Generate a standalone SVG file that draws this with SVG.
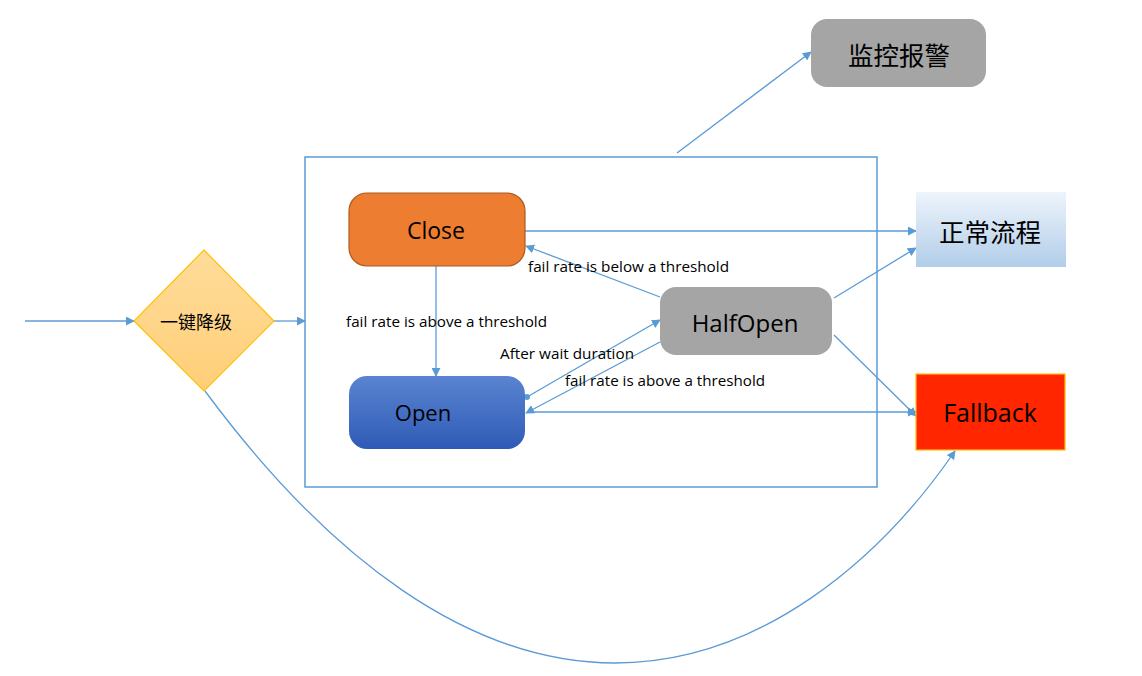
<svg xmlns="http://www.w3.org/2000/svg" width="1142" height="676" viewBox="0 0 1142 676">
<style>
.c{stroke:#5b9bd5;stroke-width:1.3;fill:none}
.a{marker-end:url(#ar)}
.lbl{font-family:"Open Sans","Liberation Sans",sans-serif;font-size:15px;fill:#000}
.nt{font-family:"Open Sans","Liberation Sans",sans-serif;font-size:22px;fill:#000;text-anchor:middle;dominant-baseline:central}
.cj{font-family:"Noto Sans CJK SC","Noto Sans",sans-serif;font-size:25.5px;fill:#000;text-anchor:middle;dominant-baseline:central}
</style>
<defs>
<marker id="ar" viewBox="0 0 10 10" refX="9" refY="5" markerWidth="9" markerHeight="9" markerUnits="userSpaceOnUse" orient="auto"><path d="M0,0 L10,5 L0,10 z" fill="#5b9bd5"/></marker>
<marker id="dot" viewBox="0 0 10 10" refX="5" refY="5" markerWidth="6" markerHeight="6" markerUnits="userSpaceOnUse"><circle cx="5" cy="5" r="5" fill="#5b9bd5"/></marker>
<linearGradient id="gOpen" x1="0" y1="0" x2="0" y2="1"><stop offset="0" stop-color="#5a84d0"/><stop offset="1" stop-color="#2f5bb7"/></linearGradient>
<linearGradient id="gNorm" x1="0" y1="0" x2="0" y2="1"><stop offset="0" stop-color="#eef4fb"/><stop offset="1" stop-color="#b1cde9"/></linearGradient>
<linearGradient id="gDia" x1="0" y1="0" x2="0" y2="1"><stop offset="0" stop-color="#ffdc9a"/><stop offset="1" stop-color="#ffcf78"/></linearGradient>
</defs>
<rect width="1142" height="676" fill="#fff"/>
<rect id="container" x="305" y="157" width="572" height="330" fill="none" stroke="#5b9bd5" stroke-width="1.5"/>
<g id="connectors">
<line class="c a" x1="25" y1="321" x2="134" y2="321"/>
<line class="c a" x1="274" y1="321" x2="305" y2="321"/>
<line class="c a" x1="677" y1="153" x2="811" y2="52"/>
<line class="c a" x1="525" y1="231" x2="916" y2="231"/>
<line class="c a" x1="660" y1="297" x2="526" y2="246"/>
<line class="c a" x1="436" y1="266" x2="436" y2="376"/>
<line class="c a" x1="527" y1="397" x2="660" y2="320" marker-start="url(#dot)"/>
<line class="c a" x1="660" y1="342" x2="526" y2="413"/>
<line class="c a" x1="527" y1="412" x2="916" y2="412"/>
<line class="c a" x1="834" y1="298" x2="916" y2="248"/>
<line class="c a" x1="834" y1="335" x2="916" y2="416"/>
<path class="c a" d="M205,391 C330,560 470,663 615,663 C760,663 880,560 955,451"/>
</g>
<g id="labels">
<text class="lbl" x="528" y="272" textLength="201" lengthAdjust="spacingAndGlyphs">fail rate is below a threshold</text>
<text class="lbl" x="346" y="327" textLength="201" lengthAdjust="spacingAndGlyphs">fail rate is above a threshold</text>
<text class="lbl" x="500" y="359" textLength="134" lengthAdjust="spacingAndGlyphs">After wait duration</text>
<text class="lbl" x="565" y="386" textLength="200" lengthAdjust="spacingAndGlyphs">fail rate is above a threshold</text>
</g>
<g id="diamond">
<polygon points="204,250 274,321 204,391 134,321" fill="url(#gDia)" stroke="#ffc000" stroke-width="1.2"/>
<text class="cj" x="196" y="321" style="font-size:18px">一键降级</text>
</g>
<g id="close">
<rect x="349" y="193" width="176" height="73" rx="18" fill="#ed7d31" stroke="#ae5a21" stroke-width="1.2"/>
<text class="nt" x="436" y="230" style="font-size:23px">Close</text>
</g>
<g id="open">
<rect x="349" y="376" width="176" height="73" rx="18" fill="url(#gOpen)"/>
<text class="nt" x="423" y="412">Open</text>
</g>
<g id="halfopen">
<rect x="660" y="287" width="172" height="68" rx="16" fill="#a5a5a5"/>
<text class="nt" x="745" y="322" style="font-size:24px">HalfOpen</text>
</g>
<g id="normal">
<rect x="916" y="192" width="150" height="75" fill="url(#gNorm)"/>
<text class="cj" x="990" y="230">正常流程</text>
</g>
<g id="fallback">
<rect x="916" y="374" width="149" height="76" fill="#ff2600" stroke="#ffc000" stroke-width="1.2"/>
<text class="nt" x="990" y="412" style="font-size:25px">Fallback</text>
</g>
<g id="monitor">
<rect x="811" y="19" width="175" height="68" rx="16" fill="#a5a5a5"/>
<text class="cj" x="899" y="53">监控报警</text>
</g>
</svg>
